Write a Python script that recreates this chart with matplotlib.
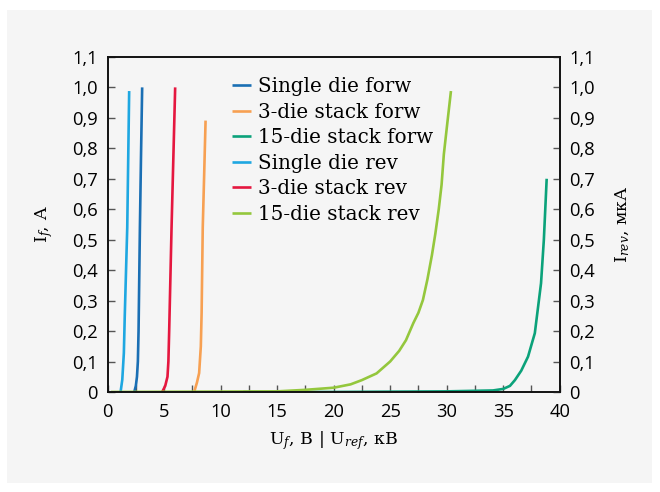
import matplotlib
matplotlib.use("Agg")
import matplotlib.pyplot as plt
from matplotlib.patches import Rectangle
from matplotlib.ticker import MultipleLocator, FuncFormatter

plt.rcParams['mathtext.fontset'] = 'dejavuserif'

# ---- data ----
single_forw_x = [2.36, 2.5, 2.6, 2.68, 2.74, 2.86, 2.96, 3.06]
single_forw_y = [0.0, 0.02, 0.05, 0.1, 0.2, 0.54, 0.78, 1.0]

three_forw_x = [7.66, 7.9, 8.1, 8.25, 8.32, 8.42, 8.55, 8.67]
three_forw_y = [0.0, 0.03, 0.062, 0.15, 0.26, 0.54, 0.72, 0.891]

fifteen_forw_x = [12.0, 20.0, 30.0, 34.1, 35.0, 35.6, 36.04, 36.6, 37.2, 37.8, 38.35, 38.6, 38.85]
fifteen_forw_y = [0.0, 0.0, 0.002, 0.005, 0.01, 0.02, 0.039, 0.07, 0.116, 0.193, 0.357, 0.5, 0.70]

single_rev_x = [1.15, 1.3, 1.44, 1.52, 1.74, 1.91]
single_rev_y = [0.0, 0.04, 0.128, 0.25, 0.54, 0.988]

three_rev_x = [4.83, 5.1, 5.3, 5.38, 5.45, 5.66, 5.98]
three_rev_y = [0.0, 0.02, 0.05, 0.1, 0.2, 0.54, 1.0]

fifteen_rev_x = [0.3, 15.0, 17.5, 20.0, 21.5, 22.5, 23.8, 25.0, 25.8, 26.4, 27.05, 27.5, 27.9, 28.3, 28.7,
                 29.0, 29.3, 29.55, 29.75, 30.05, 30.38]
fifteen_rev_y = [0.0, 0.002, 0.007, 0.014, 0.025, 0.039, 0.061, 0.10, 0.135, 0.17, 0.226, 0.26, 0.302, 0.37,
                 0.45, 0.52, 0.6, 0.68, 0.78, 0.88, 0.988]

series = [
    ("Single die forw", single_forw_x, single_forw_y, "#1a6fb4"),
    ("3-die stack forw", three_forw_x, three_forw_y, "#f7a052"),
    ("15-die stack forw", fifteen_forw_x, fifteen_forw_y, "#0ba27a"),
    ("Single die rev", single_rev_x, single_rev_y, "#1ea7e1"),
    ("3-die stack rev", three_rev_x, three_rev_y, "#e5173f"),
    ("15-die stack rev", fifteen_rev_x, fifteen_rev_y, "#94c73d"),
]

x_ticks = [0, 5, 10, 15, 20, 25, 30, 35, 40]

# ---- figure ----
fig = plt.figure(figsize=(6.6, 4.92), dpi=100, facecolor="white")
bg = Rectangle((7 / 660, 1 - 483 / 492), 645 / 660, 473 / 492,
               transform=fig.transFigure, facecolor="#f5f5f5",
               edgecolor="none", zorder=-10)
fig.add_artist(bg)

ax = fig.add_axes([0.163, 0.2033, 0.685, 0.681])
ax.set_facecolor("none")

for label, xs, ys, c in series:
    ax.plot(xs, ys, color=c, lw=1.9, label=label, solid_capstyle="butt")

ax.set_xlim(0, 40)
ax.set_ylim(0, 1.1)
ax.set_xticks(x_ticks)
ax.xaxis.set_minor_locator(MultipleLocator(2.5))
ax.yaxis.set_major_locator(MultipleLocator(0.1))

def fmt(v, pos):
    if abs(v) < 1e-9:
        return "0"
    return f"{v:.1f}".replace(".", ",")

ax.yaxis.set_major_formatter(FuncFormatter(fmt))

tick_font = "Open Sans"
tick_size = 13.2
ax.tick_params(axis="both", which="both", direction="in", length=5, width=1,
               color="#555555", labelsize=tick_size)
ax.tick_params(axis="x", which="major", pad=8)
ax.tick_params(axis="y", which="major", pad=7)
for t in ax.get_xticklabels() + ax.get_yticklabels():
    t.set_fontfamily(tick_font)
for s in ax.spines.values():
    s.set_linewidth(1.2)
    s.set_color("#111111")

ax2 = ax.twinx()
ax2.set_ylim(0, 1.1)
ax2.yaxis.set_major_locator(MultipleLocator(0.1))
ax2.yaxis.set_major_formatter(FuncFormatter(fmt))
ax2.tick_params(axis="y", direction="in", length=5, width=1, color="#555555",
                labelsize=tick_size, pad=7)
for t in ax2.get_yticklabels():
    t.set_fontfamily(tick_font)
for s in ax2.spines.values():
    s.set_linewidth(1.2)
    s.set_color("#111111")

serif = "DejaVu Serif"
ax.set_xlabel(r"U$_{f}$, В | U$_{ref}$, кВ", fontsize=12.5, fontfamily=serif, labelpad=6)
ax.set_ylabel(r"I$_{f}$, A", fontsize=12.5, fontfamily=serif, labelpad=12)
ax2.set_ylabel(r"I$_{rev}$, мкА", fontsize=12.5, fontfamily=serif, labelpad=13)

leg = ax.legend(loc="upper left", bbox_to_anchor=(0.275, 0.94), frameon=False,
                prop={"family": serif, "size": 14.3}, handlelength=0.95,
                handletextpad=0.35, labelspacing=0.33, borderpad=0, borderaxespad=0)

fig.savefig("out.png", dpi=100, facecolor="white")
